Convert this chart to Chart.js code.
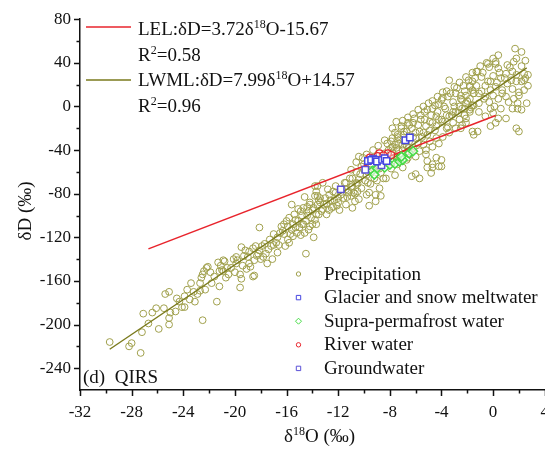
<!DOCTYPE html>
<html>
<head>
<meta charset="utf-8">
<script src="https://cdn.jsdelivr.net/npm/chart.js@4.4.1/dist/chart.umd.min.js"></script>
<style>
  html, body { margin: 0; padding: 0; background: #fff; overflow: hidden; }
  #wrap { width: 545px; height: 449px; overflow: hidden; }
  canvas { display: block; }
</style>
</head>
<body>
<div id="wrap"><canvas id="chart" width="561" height="449"></canvas></div>
<script>
// Axis ticks
const xTicks = [-32, -28, -24, -20, -16, -12, -8, -4, 0, 4];
const yTicks = [-240, -200, -160, -120, -80, -40, 0, 40, 80];

// Regression lines (end points)
const lelLine = [[-26.7, -130.6], [0.2, -8.4]];
const lwmlLine = [[-29.7, -222.6], [2.6, 35.3]];

// Sample points [d18O, dD]
const glacierMeltwater = [[-9.7, -50], [-9.45, -49], [-9.1, -49], [-9.0, -50.5], [-8.6, -49], [-8.4, -47.5], [-8.25, -50], [-6.8, -31], [-6.45, -28.5]];
const groundwater = [[-11.8, -76], [-9.9, -58], [-8.65, -54], [-9.3, -48]];
const supraPermafrost = [[-9.35, -59], [-9.0, -57], [-8.4, -56], [-8.0, -53.5], [-7.6, -52.5], [-7.25, -50.5], [-7.0, -49], [-9.2, -62.5], [-7.1, -46], [-6.5, -43], [-6.2, -41]];
const riverWater = [[-8.8, -43], [-8.15, -43], [-7.9, -44.5], [-9.55, -47], [-8.95, -45.5], [-8.5, -45]];

const precipitation = [
  [-29.7,-216],[-28.2,-220],[-28.0,-217],[-27.3,-226],[-27.1,-190],[-27.2,-207],[-26.7,-199],[-26.1,-185],
  [-25.9,-204],[-25.5,-185],[-25.4,-172],[-25.1,-170],[-25.0,-189],[-25.1,-194],[-25.1,-200],[-24.6,-188],
  [-24.3,-179],[-24.1,-184],[-23.9,-174],[-23.7,-168],[-23.9,-184],[-23.5,-177],[-23.4,-162],[-23.1,-179],
  [-22.9,-172],[-22.7,-162],[-22.6,-157],[-22.5,-154],[-22.5,-196],[-22.7,-169],[-22.2,-148],[-22.3,-168],
  [-22.4,-151],[-22.1,-147],[-21.8,-162],[-21.4,-179],[-21.3,-143],[-21.2,-151],[-21.1,-146],[-21.2,-165],
  [-20.9,-151],[-20.8,-142],[-20.7,-157],[-20.1,-140],[-19.9,-138],[-19.8,-141],[-19.6,-154],[-19.5,-158],
  [-19.6,-166],[-19.1,-149],[-18.9,-144],[-18.5,-155],[-18.3,-137],
  [-20.9,-141],[-21.0,-150],[-20.6,-148],[-20.5,-154],[-19.9,-144],[-19.4,-146],[-19.5,-129],[-19.2,-132],
  [-18.9,-133],[-19.0,-138],[-18.6,-130],[-18.6,-156],[-18.5,-141],[-18.2,-135],[-18.1,-132],[-17.9,-128],
  [-17.8,-138],[-17.7,-126],[-17.5,-144],[-17.6,-135],[-17.3,-122],[-17.2,-128],[-17.1,-140],[-17.0,-117],
  [-16.8,-125],[-16.7,-134],[-16.7,-120],[-16.5,-116],[-16.4,-110],[-16.3,-114],[-16.1,-128],[-16.0,-105],
  [-15.9,-122],[-15.8,-102],[-15.6,-113],[-15.8,-125],[-15.5,-108],[-15.4,-99],[-15.2,-116],[-15.1,-94],
  [-15.1,-105],[-15.0,-111],[-14.8,-100],[-14.7,-93],[-14.6,-116],[-14.5,-135],[-14.7,-108],[-14.5,-105],
  [-14.3,-96],[-14.2,-88],[-14.3,-113],[-14.1,-102],[-13.9,-120],[-13.9,-93],[-13.8,-82],[-13.7,-99],
  [-13.6,-90],[-13.7,-108],[-13.6,-73],[-15.6,-90],[-18.1,-111],
  [-14.6,-83],[-13.8,-73],[-13.2,-70],[-12.8,-76],[-13.7,-78],[-13.4,-84],[-14.2,-90],[-13.1,-90],
  [-12.5,-93],[-12.7,-81],[-12.4,-78],[-12.2,-73],[-12.0,-84],[-11.8,-81],[-11.5,-70],[-11.4,-76],
  [-11.1,-66],[-11.0,-82],[-10.9,-73],[-10.7,-87],[-10.6,-60],[-10.5,-78],[-10.4,-67],[-10.2,-55],
  [-10.1,-47],[-10.0,-53],[-9.8,-63],[-9.7,-70],[-9.6,-79],[-9.5,-58],[-9.3,-47],[-9.2,-66],
  [-9.1,-81],[-8.9,-55],[-8.8,-75],[-8.7,-61],[-8.5,-50],[-8.4,-43],[-8.3,-66],[-8.2,-34],
  [-8.0,-53],[-7.9,-38],[-7.8,-29],[-7.6,-63],[-7.5,-47],[-7.4,-26],[-7.3,-41],[-7.1,-20],
  [-7.0,-56],[-6.9,-32],[-6.7,-23],[-6.6,-47],[-6.5,-17],[-6.5,-38],[-9.8,-81],[-9.6,-91],
  [-9.1,-87],[-8.7,-82],[-10.4,-85],[-10.9,-93],[-11.4,-90],
  [-3.4,24],[-1.3,32],[-1.6,23],[-1.8,18],[-2.2,14],[-2.5,7],[-2.9,12],[-3.1,4],
  [-3.5,9],[-3.8,0],[-4.0,6],[-4.3,-5],[-4.5,1],[-4.8,-8],[-5.1,-3],[-5.3,-12],
  [-5.6,-8],[-5.8,-17],[-6.1,-11],[-6.3,-20],[-6.6,-15],[-6.9,-23],[-7.1,-18],[-7.4,-28],
  [-7.6,-24],[-7.9,-32],
  [-1.6,1],[-1.8,-5],[-2.1,-11],[-2.4,-17],[-2.6,-12],[-2.9,-20],[-3.1,-15],[-3.4,-24],
  [-3.6,-20],[-3.9,-28],[-4.2,-34],[-4.4,-29],[-4.7,-37],[-4.9,-32],[-5.2,-40],[-5.4,-35],
  [-5.7,-41],[-6.0,-46],[-6.2,-38],[-6.5,-44],[-6.7,-49],[-7.0,-44],[-7.3,-50],[-7.5,-47],
  [-5.1,-50],[-4.7,-56],[-4.2,-55],[-4.0,-49],
  [-1.8,7],[-2.4,-2],[-2.9,-5],[-3.4,-9],[-3.9,-14],[-4.4,-18],[-4.9,-22],[-5.4,-24],
  [-6.0,-29],[-6.5,-32],[-7.0,-35],[-7.5,-38],[-1.5,12],[-2.1,3],[-2.6,0],[-3.1,-5],
  [-3.6,-8],[-4.2,-12],[-4.7,-15],[-5.2,-18],[-5.7,-23],[-6.2,-28],[-6.7,-31],[-7.3,-34],
  [-7.8,-37],
  [1.7,53],[2.2,50],[1.8,44],[0.2,39],[-0.3,36],[0.4,35],[-1.2,32],[-0.9,27],
  [-1.4,26],[1.3,36],[1.5,32],[1.0,30],[2.4,30],[2.5,26],[2.2,23],[-1.8,19],
  [-1.6,15],[-2.1,10],[-2.4,6],[-0.6,19],[-0.2,23],[0.2,18],[0.6,26],[0.7,15],
  [1.1,21],[1.5,16],[1.8,23],[2.0,13],[2.4,15],[2.7,29],[2.7,19],[-1.1,12],
  [-0.7,7],[-0.3,4],[0.0,10],[0.4,7],[1.0,9],[1.6,7],[1.9,3],[1.5,-2],
  [2.2,-3],[-1.5,1],[-1.8,-3],[-2.2,-8],[-1.1,-5],[-0.6,-9],[0.0,-6],[0.6,-2],
  [1.0,-11],[0.2,-15],[-0.2,-18],[1.8,-20],[2.0,-23],[-1.6,-23],[-1.2,-23],[-1.5,-26],
  [-2.1,-15],[-2.5,-20],[1.9,-2],[2.6,3],
  [-6.3,-64],[-6.0,-62],[-5.7,-66],[-5.1,-56],[-4.7,-53],[-4.4,-47],[-4.0,-55],[-4.8,-61],
  [-5.2,-44],[0.4,-11],[-0.2,-2],[-0.4,39],[0.2,41],
  [-13.4,-88],[-13.3,-96],[-13.0,-84],[-12.9,-99],[-12.6,-86],[-12.4,-92],[-12.2,-79],[-12.0,-88],
  [-11.9,-95],[-11.6,-84],[-11.4,-70],[-11.2,-79],[-11.0,-74],[-10.9,-66],[-10.7,-80],[-10.5,-71],
  [-10.3,-62],[-10.2,-75],[-10.0,-58],[-9.9,-68],[-9.7,-60],[-9.5,-71],[-9.4,-54],[-9.2,-58],
  [-9.0,-68],[-8.8,-57],[-8.6,-45],[-8.5,-66],[-8.3,-52],[-8.1,-40],[-7.9,-57],[-7.7,-45],
  [-7.6,-35],[-7.4,-53],[-7.2,-30],[-7.0,-40],[-6.9,-26],[-6.7,-36],[-6.5,-27],[-6.3,-42],
  [-6.2,-15],[-6.0,-24],[-5.8,-34],[-5.6,-12],[-5.5,-28],[-5.3,-5],[-5.1,-26],[-4.9,-14],
  [-4.7,-2],[-4.5,-22],[-4.4,-9],[-4.2,2],[-4.0,-12],[-3.9,8],[-3.7,-2],[-3.5,-19],
  [-3.3,12],[-3.2,-8],[-3.0,0],[-2.8,17],[-2.7,-6],[-2.5,10],[-2.3,19],[-2.2,-2],
  [-2.0,5],[-1.9,24],[-1.7,-1],[-1.5,12],[-1.3,19],[-1.1,3],[-0.9,14],[-0.8,31],
  [-0.6,9],[-0.4,23],[-0.2,15],[0.0,28],[0.1,0],[0.3,22],[0.5,31],[0.7,12],
  [0.9,26],[1.1,38],[1.2,4],[1.4,24],[1.6,41],[1.8,29],[2.0,10],[2.2,37],
  [2.4,24],[2.5,42],
  [-16.2,-117],[-15.9,-110],[-15.5,-119],[-15.3,-104],[-14.9,-96],[-14.8,-108],[-14.4,-100],[-14.2,-110],
  [-14.0,-95],[-13.8,-104],[-13.6,-82],[-13.5,-99],
  [-11.0,-58],[-10.6,-51],[-10.4,-46],[-9.8,-44],[-9.3,-40],[-8.9,-36],[-8.4,-31],
  [-7.8,-20],[-7.5,-14],[-7.0,-13],[-6.6,-10],[-6.2,-7],[-5.8,-3],[-5.4,0],[-5.0,3],
  [-4.7,5],[-4.3,9],[-3.9,13],[-3.6,14],[-3.0,18],[-2.6,22],[-2.1,27],[-1.6,31],
  [-1.0,37],[-0.5,40],[0.0,44],[0.4,47],
  [-19.3,-137],[-18.8,-147],[-18.4,-128],[-18.0,-140],[-17.4,-131],[-17.0,-127],[-16.6,-127],[-16.2,-108],
  [-15.7,-117],[-15.3,-111],[-14.9,-118],[-14.4,-92],[-14.0,-108],[-13.5,-86],[-13.2,-94],[-12.9,-89],
  [-12.7,-95],[-12.3,-86],[-12.1,-91],[-11.7,-76],[-11.3,-83],[-10.8,-79],[-10.6,-70],[-20.3,-148],
  [-20.0,-152],[-21.6,-156],[-21.9,-152],[-23.2,-170],[-24.5,-176],[-26.4,-189]
];

const serif = '"Liberation Serif", "Times New Roman", serif';
const olive = 'rgb(160,160,76)';
const olivLine = 'rgb(122,122,28)';
const red = 'rgb(232,36,44)';
const blue = 'rgb(70,70,225)';
const blue2 = 'rgb(90,80,215)';
const green = 'rgb(70,220,70)';

const toXY = arr => arr.map(p => ({ x: p[0], y: p[1] }));

// Draws text with superscript parts (given as ['18'])
function richText(ctx, parts, x, y, size) {
    let cx = x;
    parts.forEach(p => {
        const sup = Array.isArray(p);
        const s = sup ? p[0] : p;
        ctx.font = (sup ? Math.round(size * 0.62) : size) + 'px ' + serif;
        ctx.fillText(s, cx, sup ? y - size * 0.38 : y);
        cx += ctx.measureText(s).width;
    });
    return cx;
}

function marker(ctx, style, color, x, y) {
    ctx.strokeStyle = color;
    ctx.lineWidth = 1;
    ctx.beginPath();
    if (style === 'circle') ctx.arc(x, y, 2.2, 0, Math.PI * 2);
    else if (style === 'rect') ctx.rect(x - 2.2, y - 2.2, 4.4, 4.4);
    else { ctx.moveTo(x, y - 3); ctx.lineTo(x + 3, y); ctx.lineTo(x, y + 3); ctx.lineTo(x - 3, y); ctx.closePath(); }
    ctx.stroke();
}

const decorPlugin = {
    id: 'decor',
    afterDraw(chart) {
        const { ctx, scales: { x, y }, chartArea: a } = chart;
        ctx.save();

        // major and minor ticks, outward
        ctx.strokeStyle = '#111';
        ctx.lineWidth = 1.5;
        ctx.beginPath();
        xTicks.forEach((v, i) => {
            const px = Math.round(x.getPixelForValue(v)) + 0.5;
            ctx.moveTo(px, a.bottom); ctx.lineTo(px, a.bottom + 6);
            if (i < xTicks.length - 1) {
                const mx = Math.round(x.getPixelForValue((v + xTicks[i + 1]) / 2)) + 0.5;
                ctx.moveTo(mx, a.bottom); ctx.lineTo(mx, a.bottom + 3.5);
            }
        });
        yTicks.forEach((v, i) => {
            const py = Math.round(y.getPixelForValue(v)) + 0.5;
            ctx.moveTo(a.left, py); ctx.lineTo(a.left - 6, py);
            if (i < yTicks.length - 1) {
                const my = Math.round(y.getPixelForValue((v + yTicks[i + 1]) / 2)) + 0.5;
                ctx.moveTo(a.left, my); ctx.lineTo(a.left - 3.5, my);
            }
        });
        ctx.stroke();

        ctx.fillStyle = '#111';
        ctx.textBaseline = 'alphabetic';
        ctx.textAlign = 'left';

        // axis titles
        richText(ctx, ['δ', ['18'], 'O (‰)'], 284, 442, 19);
        ctx.save();
        ctx.translate(31, 211);
        ctx.rotate(-Math.PI / 2);
        ctx.font = '19px ' + serif;
        ctx.textAlign = 'center';
        ctx.fillText('δD (‰)', 0, 0);
        ctx.restore();

        // regression legend, top left
        ctx.lineWidth = 1.5;
        ctx.strokeStyle = red;
        ctx.beginPath(); ctx.moveTo(86, 27); ctx.lineTo(131, 27); ctx.stroke();
        ctx.strokeStyle = olivLine;
        ctx.beginPath(); ctx.moveTo(86, 80); ctx.lineTo(131, 80); ctx.stroke();
        richText(ctx, ['LEL:δD=3.72δ', ['18'], 'O-15.67'], 138, 35, 19);
        richText(ctx, ['R', ['2'], '=0.58'], 138, 61, 19);
        richText(ctx, ['LWML:δD=7.99δ', ['18'], 'O+14.57'], 138, 86, 19);
        richText(ctx, ['R', ['2'], '=0.96'], 138, 112, 19);

        // sample legend, bottom right
        const items = [
            ['Precipitation', 'circle', olive],
            ['Glacier and snow meltwater', 'rect', blue],
            ['Supra-permafrost water', 'diamond', green],
            ['River water', 'circle', red],
            ['Groundwater', 'rect', blue2]
        ];
        items.forEach((it, i) => {
            const yy = 274 + i * 23.6;
            marker(ctx, it[1], it[2], 298.5, yy);
            ctx.fillStyle = '#111';
            ctx.font = '19px ' + serif;
            ctx.fillText(it[0], 324, yy + 5.5);
        });

        ctx.font = '19px ' + serif;
        ctx.fillText('(d)  QIRS', 83, 383);
        ctx.restore();
    }
};

const tickFont = { family: serif, size: 17 };

new Chart(document.getElementById('chart'), {
    type: 'scatter',
    data: {
        datasets: [
            { label: 'Glacier and snow meltwater', data: toXY(glacierMeltwater), pointStyle: 'rect', pointRadius: 4.5, borderColor: blue, backgroundColor: '#fff', borderWidth: 1.5 },
            { label: 'Groundwater', data: toXY(groundwater), pointStyle: 'rect', pointRadius: 4.5, borderColor: blue2, backgroundColor: '#fff', borderWidth: 1.5 },
            { label: 'Supra-permafrost water', data: toXY(supraPermafrost), pointStyle: 'rectRot', pointRadius: 4.5, borderColor: green, backgroundColor: 'rgba(255,255,255,0.6)', borderWidth: 1.5 },
            { label: 'River water', data: toXY(riverWater), pointStyle: 'circle', pointRadius: 3.5, borderColor: red, backgroundColor: 'rgba(255,255,255,0.4)', borderWidth: 1.2 },
            { label: 'LEL', type: 'line', data: toXY(lelLine), borderColor: red, borderWidth: 1.6, pointRadius: 0, fill: false },
            { label: 'LWML', type: 'line', data: toXY(lwmlLine), borderColor: olivLine, borderWidth: 1.4, pointRadius: 0, fill: false },
            { label: 'Precipitation', data: toXY(precipitation), pointStyle: 'circle', pointRadius: 3.4, borderColor: olive, backgroundColor: 'rgba(0,0,0,0)', borderWidth: 1 }
        ]
    },
    options: {
        responsive: false,
        animation: false,
        devicePixelRatio: 1,
        layout: { padding: { top: 17, left: 0, right: 0, bottom: 0 } },
        plugins: { legend: { display: false }, tooltip: { enabled: false } },
        scales: {
            x: {
                type: 'linear',
                min: -32,
                max: 4,
                afterBuildTicks: s => { s.ticks = xTicks.map(v => ({ value: v })); },
                afterFit: s => { s.height = 59; },
                grid: { display: true, drawOnChartArea: false, drawTicks: false },
                border: { display: true, color: '#111', width: 1.5 },
                ticks: { font: tickFont, color: '#111', padding: 12, maxRotation: 0, autoSkip: false },
                title: { display: false }
            },
            y: {
                type: 'linear',
                min: -260,
                max: 80,
                afterBuildTicks: s => { s.ticks = yTicks.map(v => ({ value: v })); },
                afterFit: s => { s.width = 80; },
                grid: { display: true, drawOnChartArea: false, drawTicks: false },
                border: { display: true, color: '#111', width: 1.5 },
                ticks: { font: tickFont, color: '#111', padding: 9, autoSkip: false },
                title: { display: false }
            }
        }
    },
    plugins: [decorPlugin]
});
</script>
</body>
</html>
